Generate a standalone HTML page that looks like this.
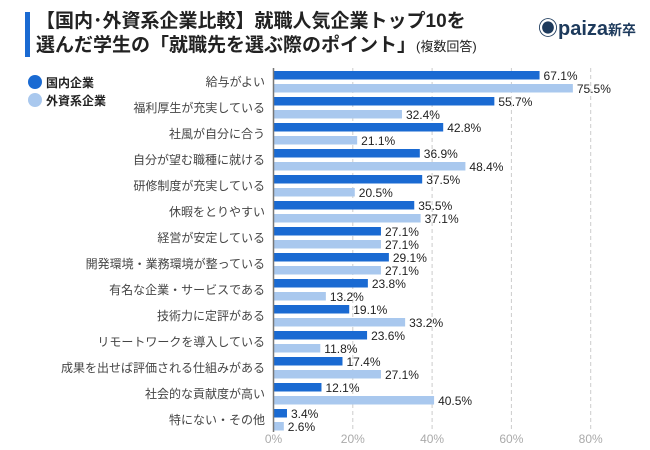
<!DOCTYPE html>
<html><head><meta charset="utf-8"><style>
body{margin:0;background:#fff;font-family:"Liberation Sans","Noto Sans CJK JP",sans-serif;}
#wrap{position:relative;width:650px;height:450px;overflow:hidden}
.t{position:absolute;font-weight:bold;color:#222;}
</style></head><body>
<div id="wrap">
<div style="position:absolute;left:25px;top:12px;width:5px;height:45px;background:#1a6ad2"></div>
<div class="t" style="left:36px;top:10px;font-size:19px;line-height:24px;">【国内･外資系企業比較】就職人気企業トップ10を<br>選んだ学生の「就職先を選ぶ際のポイント」<span style="font-size:13px;font-weight:normal">(複数回答)</span></div>
<div class="t" style="left:538px;top:12px;font-size:20px;color:#1d3a5c;">◉paiza<span style="font-size:14px">新卒</span></div>
<svg id="c" width="650" height="450" style="position:absolute;left:0;top:0"></svg>
</div>
<script>
const categories=["給与がよい","福利厚生が充実している","社風が自分に合う","自分が望む職種に就ける","研修制度が充実している","休暇をとりやすい","経営が安定している","開発環境・業務環境が整っている","有名な企業・サービスである","技術力に定評がある","リモートワークを導入している","成果を出せば評価される仕組みがある","社会的な貢献度が高い","特にない・その他"];
const domestic=[67.1,55.7,42.8,36.9,37.5,35.5,27.1,29.1,23.8,19.1,23.6,17.4,12.1,3.4];
const foreign=[75.5,32.4,21.1,48.4,20.5,37.1,27.1,27.1,13.2,33.2,11.8,27.1,40.5,2.6];
const ticks=[0,20,40,60,80];
const seriesNames=["国内企業","外資系企業"];
const colors=["#1a6ad2","#a9c8ee"];
const NS="http://www.w3.org/2000/svg";
const svg=document.getElementById('c');
const x=v=>273.5+v*3.965;
const y0=76, step=26;
function el(t,a,txt){const e=document.createElementNS(NS,t);for(const k in a)e.setAttribute(k,a[k]);if(txt!==undefined)e.textContent=txt;svg.appendChild(e);return e;}
ticks.forEach(t=>{
 if(t>0){const g=el('line',{x1:x(t),x2:x(t),y1:68,y2:432,stroke:'#ccc','stroke-dasharray':'4,3'});
 
 }
 const l=el('text',{x:x(t),y:443,'font-size':12,fill:'#aaa','text-anchor':'middle'},t+'%');
 
 
});
categories.forEach((c,i)=>{
 const yc=y0+i*step;
 const lab=el('text',{x:265,y:yc+10,'font-size':12,fill:'#444','text-anchor':'end'},c);
 
 
 [domestic[i],foreign[i]].forEach((v,s)=>{
  const by=yc-5+s*13;
  const r=el('rect',{x:x(0),y:by,width:x(v)-x(0),height:8.5,fill:colors[s]});
  
  
  const tv=el('text',{x:x(v)+4,y:by+9,'font-size':12,fill:'#222'},v.toFixed(1)+'%');
  
  
 });
});
const ax=el('line',{x1:x(0),x2:x(0),y1:68,y2:432,stroke:'#777','stroke-width':1.5});


seriesNames.forEach((n,s)=>{
 const c=el('circle',{cx:35,cy:82+s*18,r:7,fill:colors[s]});
 
 
 const t=el('text',{x:46,y:87+s*18,'font-size':12,'font-weight':'bold',fill:'#222'},n);
 
 
});
</script>
</body></html>
